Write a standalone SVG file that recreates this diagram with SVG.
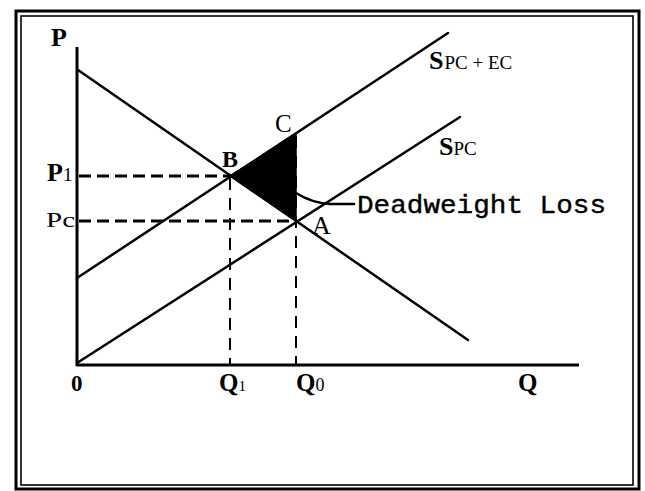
<svg xmlns="http://www.w3.org/2000/svg" width="645" height="491" viewBox="0 0 645 491">
<style>
.frame{fill:none;stroke:#000}
.ax{stroke:#000;stroke-width:3;fill:none}
.ln{stroke:#000;stroke-width:2.5;fill:none;stroke-linecap:round}
.dh{stroke:#000;stroke-width:3;fill:none;stroke-dasharray:12 6}
.dv{stroke:#000;stroke-width:2;fill:none;stroke-dasharray:12 8}
.lb{font-family:"Liberation Serif","Times New Roman",serif;fill:#000}
.b{font-weight:bold}
.mono{font-family:"Liberation Mono","Courier New",monospace;fill:#000;stroke:#000;stroke-width:0.4}
</style>
<rect width="645" height="491" fill="#fff"/>
<g id="frame">
<rect class="frame" x="16" y="11" width="623" height="478" stroke-width="3"/>
<rect class="frame" x="21" y="16" width="612" height="469" stroke-width="1.6"/>
</g>
<g id="axes">
<line class="ax" x1="77" y1="47" x2="77" y2="366"/>
<line class="ax" x1="76" y1="365" x2="579" y2="365"/>
</g>
<g id="deadweight-area">
<polygon points="230,176 296,134 296,221" fill="#000" stroke="#000" stroke-width="1.5" stroke-linejoin="round"/>
</g>
<g id="curves">
<line id="demand" class="ln" x1="78" y1="70" x2="468" y2="340"/>
<line id="s-pc-ec" class="ln" x1="77" y1="278" x2="448" y2="33"/>
<line id="s-pc" class="ln" x1="77" y1="363" x2="460" y2="117"/>
</g>
<g id="connectors">
<line class="dh" x1="79" y1="176" x2="230" y2="176"/>
<line class="dh" x1="79" y1="221" x2="296" y2="221"/>
<line class="dv" x1="230" y1="178" x2="230" y2="364"/>
<line class="dv" x1="296" y1="136" x2="296" y2="364"/>
<path class="ln" d="M296,193 Q312,203 330,204 L354,204" stroke-width="2"/>
</g>
<g id="labels">
<text class="lb b" x="51" y="46" font-size="26">P</text>
<text class="lb b" x="47" y="181" font-size="26">P<tspan font-weight="normal" font-size="19">1</tspan></text>
<text class="lb" x="46" y="227" font-size="22" textLength="29" lengthAdjust="spacingAndGlyphs">Pc</text>
<text class="lb b" x="222" y="167" font-size="24">B</text>
<text class="lb" x="275" y="132" font-size="25">C</text>
<text class="lb" x="312" y="234" font-size="26">A</text>
<text class="lb" x="429" y="69"><tspan class="b" font-size="26">S</tspan><tspan font-size="19" dx="1">PC + EC</tspan></text>
<text class="lb" x="439" y="155"><tspan class="b" font-size="26">S</tspan><tspan font-size="19">PC</tspan></text>
<text class="mono" x="357" y="213" font-size="26" textLength="249" lengthAdjust="spacingAndGlyphs">Deadweight Loss</text>
<text class="lb b" x="71" y="391" font-size="23">0</text>
<text class="lb b" x="219" y="391" font-size="25">Q<tspan font-weight="normal" font-size="15">1</tspan></text>
<text class="lb b" x="296" y="391" font-size="25">Q<tspan font-weight="normal" font-size="18">0</tspan></text>
<text class="lb b" x="518" y="391" font-size="25">Q</text>
</g>
</svg>
